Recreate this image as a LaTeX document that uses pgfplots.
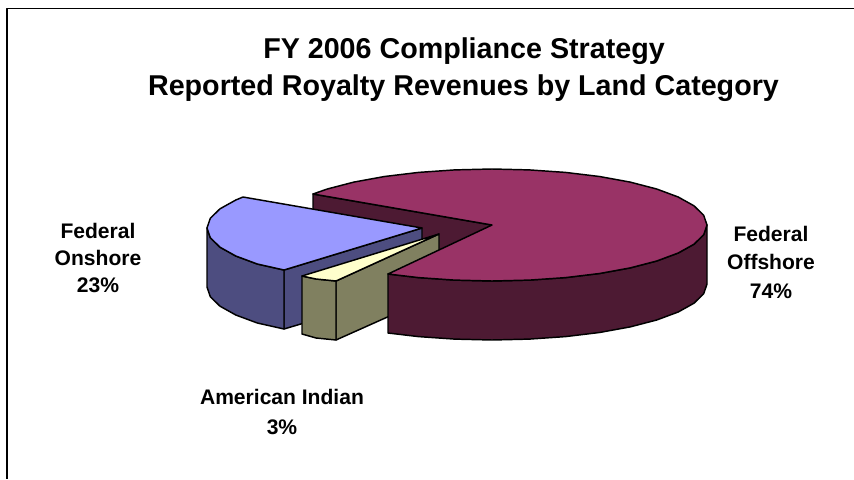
\documentclass[border=0pt]{standalone}
\usepackage{fontspec}
\setmainfont{Liberation Sans}
\usepackage{pgfplots}
\pgfplotsset{compat=1.18}
\definecolor{offTop}{RGB}{153,51,102}
\definecolor{offWall}{RGB}{77,26,51}
\definecolor{onTop}{RGB}{153,153,255}
\definecolor{onWall}{RGB}{77,77,128}
\definecolor{indTop}{RGB}{255,255,204}
\definecolor{indWall}{RGB}{128,128,96}
\tikzset{
  lab/.style={font=\bfseries\fontsize{15.8pt}{18pt}\selectfont, anchor=center, inner sep=0pt},
  ttl/.style={font=\bfseries\fontsize{21.5pt}{25pt}\selectfont, anchor=center, inner sep=0pt},
}

\begin{document}
\begin{tikzpicture}
  \begin{axis}[
      scale only axis, width=640.5pt, height=359.25pt,
      xmin=0, xmax=854, ymin=0, ymax=479,
      y dir=reverse, hide axis, clip=true,
      every axis plot/.append style={draw=black, line width=1.1pt, line join=round},
    ]
    % page and chart frame (no right or bottom edge in the picture)
    \addplot[fill=white, draw=none] coordinates {(0,0) (854,0) (854,479) (0,479)} -- cycle;
    \addplot[fill=none, line width=1.2pt] coordinates {(854,8.5) (7,8.5) (7,479)};

    % back cut wall of the offshore slice
    \addplot[fill=offWall] coordinates {(313,194) (492,225) (492,284) (313,253)} -- cycle;

    % Federal Onshore 23%
    \addplot[fill=onWall] coordinates {(284,270) (422,228) (422,288) (284,329)} -- cycle;
    \addplot[fill=onWall] coordinates {
      (207,228) (210.3,237.7) (220,247.2) (235.8,256) (257.3,264) (284,270)
      (284,329) (257.3,323) (235.8,315) (220,306.2) (210.3,296.7) (207,287)} -- cycle;
    \addplot[fill=onTop] coordinates {
      (422,228) (243,197) (235.8,200) (220,208.8) (210.3,218.3) (207,228)
      (210.3,237.7) (220,247.2) (235.8,256) (257.3,264) (284,270)} -- cycle;

    % American Indian 3%
    \addplot[fill=indWall] coordinates {(336,281) (439,234) (439,294) (336,340)} -- cycle;
    \addplot[fill=indWall] coordinates {(302,276) (316,279) (336,281) (336,340) (316,338) (302,334)} -- cycle;
    \addplot[fill=indTop] coordinates {(439,234) (302,276) (316,279) (336,281)} -- cycle;

    % Federal Offshore 74%
    \addplot[fill=offWall] coordinates {
      (707,225) (703.7,234.7) (694,244.2) (678.2,253) (656.7,261) (630.2,267.9)
      (599.5,273.5) (565.5,277.6) (529.3,280.1) (492,281) (454.7,280.1) (418.5,277.6) (388,274)
      (388,333) (418.5,336.6) (454.7,339.1) (492,340) (529.3,339.1) (565.5,336.6) (599.5,332.5)
      (630.2,326.9) (656.7,320) (678.2,312) (694,303.2) (703.7,293.7) (707,284)} -- cycle;
    \addplot[fill=offTop] coordinates {
      (492,225) (313,194) (327.3,189) (353.8,182.1) (384.5,176.5) (418.5,172.4) (454.7,169.9)
      (492,169) (529.3,169.9) (565.5,172.4) (599.5,176.5) (630.2,182.1) (656.7,189) (678.2,197)
      (694,205.8) (703.7,215.3) (707,225) (703.7,234.7) (694,244.2) (678.2,253) (656.7,261)
      (630.2,267.9) (599.5,273.5) (565.5,277.6) (529.3,280.1) (492,281) (454.7,280.1)
      (418.5,277.6) (388,274)} -- cycle;

    % texts
    \node[ttl] at (axis cs:464,51) {FY 2006 Compliance Strategy};
    \node[ttl] at (axis cs:463.5,88) {Reported Royalty Revenues by Land Category};
    \node[lab] at (axis cs:98,231) {Federal};
    \node[lab] at (axis cs:98,258) {Onshore};
    \node[lab] at (axis cs:98,285) {23\%};
    \node[lab] at (axis cs:771,234) {Federal};
    \node[lab] at (axis cs:771,262) {Offshore};
    \node[lab] at (axis cs:771,291) {74\%};
    \node[lab] at (axis cs:282,397) {American Indian};
    \node[lab] at (axis cs:282,427) {3\%};
  \end{axis}
\end{tikzpicture}
\end{document}
